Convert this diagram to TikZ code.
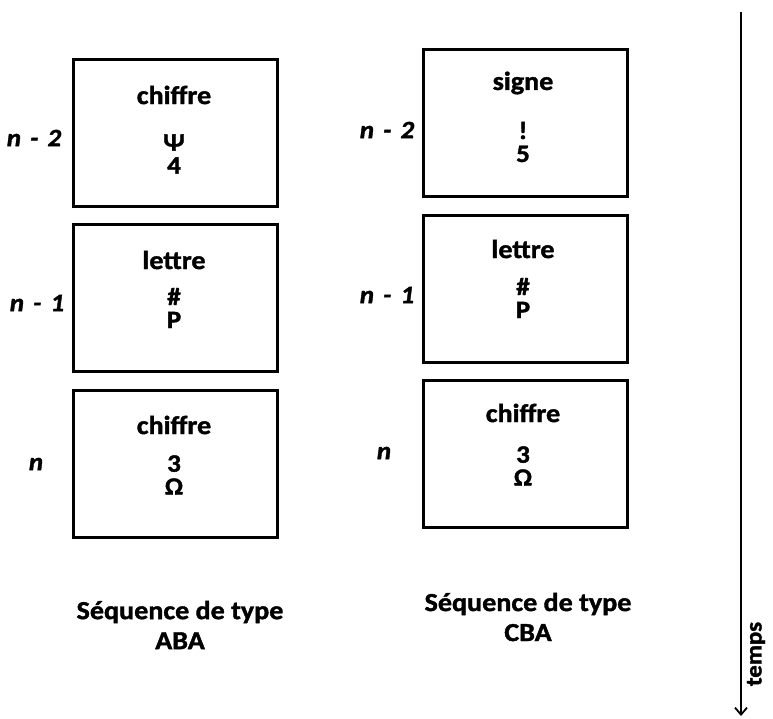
\documentclass[tikz,border=0pt]{standalone}
\usepackage{fontspec}
\setmainfont{Carlito}[FakeStretch=1.08,BoldFeatures={FakeBold=1.5},BoldItalicFeatures={FakeBold=1.5}]
\usetikzlibrary{arrows.meta}
\begin{document}
\begin{tikzpicture}[x=1pt,y=-1pt,
  box/.style={draw,line width=2.8pt,minimum width=204pt,minimum height=147pt,anchor=north west,inner sep=0pt},
  ttl/.style={font=\fontsize{26}{28}\selectfont\bfseries,inner sep=0pt},
  sym/.style={font=\fontsize{25}{23}\selectfont\bfseries,align=center,inner sep=0pt},
  lbl/.style={font=\fontsize{25}{26}\selectfont\bfseries\itshape,inner sep=0pt},
  captext/.style={font=\fontsize{26}{30}\selectfont\bfseries,align=center,inner sep=0pt}]
\useasboundingbox (0,0) rectangle (773,718);
% left column
\node[box] (l1) at (72,58) {};
\node[box] (l2) at (72,223) {};
\node[box] (l3) at (72,389) {};
\node[ttl] (l1t) at (174,95) {chiffre};
\node[sym] (l1s) at (174,154) {Ψ\\4};
\node[ttl] (l2t) at (174,260) {lettre};
\node[sym] (l2s) at (174,308) {\#\\P};
\node[ttl] (l3t) at (174,425) {chiffre};
\node[sym] (l3s) at (174,475) {3\\Ω};
\node[lbl] (ln2) at (34,138) {n\hspace{3pt} -\hspace{3pt} 2};
\node[lbl] (ln1) at (37,303) {n\hspace{3pt} -\hspace{3pt} 1};
\node[lbl] (ln0) at (36,464) {n};
\node[captext] (lc) at (180,625) {Séquence de type\\ABA};
% right column
\node[box] (r1) at (422,48) {};
\node[box] (r2) at (422,214) {};
\node[box] (r3) at (422,379) {};
\node[ttl] (r1t) at (523,83) {signe};
\node[sym] (r1s) at (523,142) {!\\5};
\node[ttl] (r2t) at (523,249) {lettre};
\node[sym] (r2s) at (523,298) {\#\\P};
\node[ttl] (r3t) at (523,413) {chiffre};
\node[sym] (r3s) at (523,466) {3\\Ω};
\node[lbl] (rn2) at (387,130) {n\hspace{3pt} -\hspace{3pt} 2};
\node[lbl] (rn1) at (387,295) {n\hspace{3pt} -\hspace{3pt} 1};
\node[lbl] (rn0) at (384,453) {n};
\node[captext] (rc) at (528,617) {Séquence de type\\CBA};
% time arrow
\coordinate (ta) at (741,12);
\coordinate (tb) at (741,716);
\draw[line width=1.8pt,-{Straight Barb[length=7pt,width=12pt]}] (ta) -- (tb);
\node[font=\fontsize{23}{23}\selectfont\bfseries,rotate=90,inner sep=0pt] (tm) at (756,654) {temps};
\end{tikzpicture}
\end{document}
